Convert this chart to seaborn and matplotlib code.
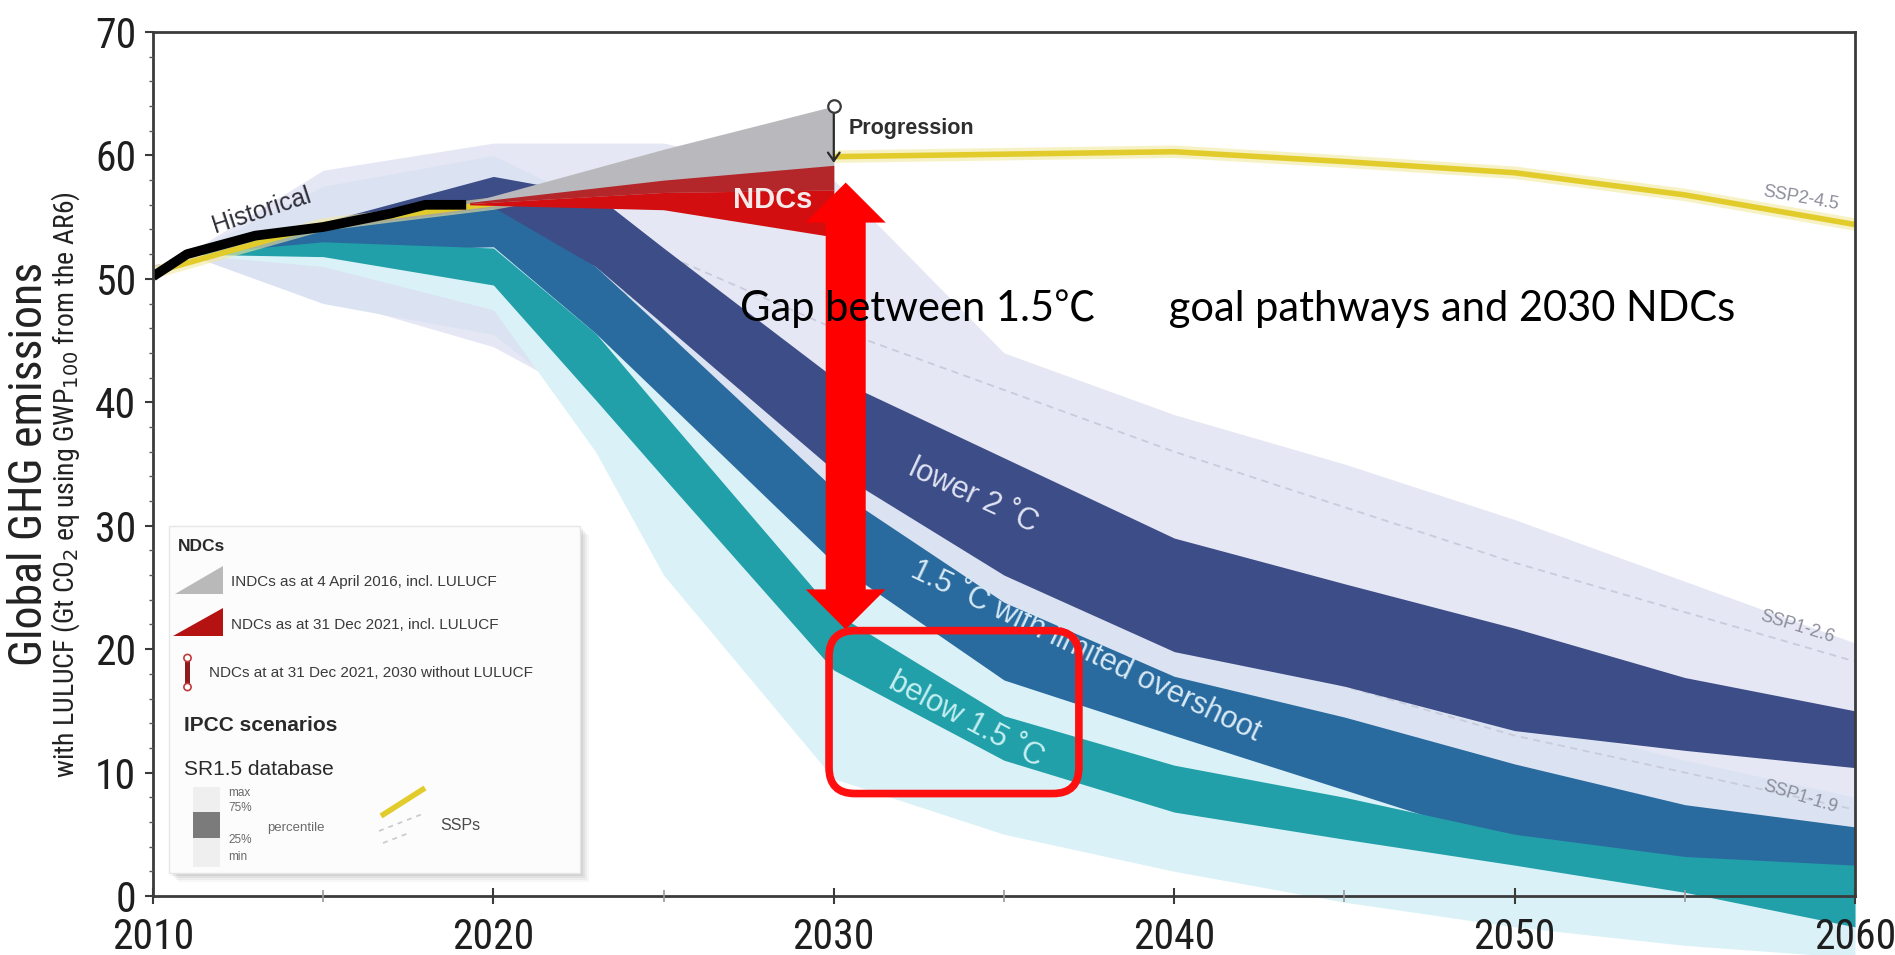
import os
import numpy as np
import pandas as pd
import matplotlib
matplotlib.use("Agg")
import matplotlib.pyplot as plt
from matplotlib import font_manager
from matplotlib.patches import Polygon, FancyBboxPatch, FancyArrow, Rectangle, Circle
import seaborn as sns

# ---------------------------------------------------------------- data
band_years = [2011, 2015, 2020, 2023, 2025, 2030, 2035, 2040, 2045, 2050, 2055, 2060]

# SR1.5 pathway categories: interquartile range (25th-75th percentile)
lower2_p75 = [52.0, 54.6, 58.3, 56.8, 52.5, 42.0, 35.5, 29.0, 25.3, 21.7, 17.7, 15.0]
lower2_p25 = [52.0, 52.8, 55.0, 51.0, 46.3, 34.5, 26.0, 19.8, 17.0, 13.4, 11.8, 10.4]
over15_p75 = [52.0, 54.0, 55.8, 51.0, 45.9, 33.0, 23.8, 17.8, 14.5, 10.7, 7.4, 5.6]
over15_p25 = [52.0, 52.2, 52.6, 45.6, 40.3, 27.0, 17.5, 13.0, 8.6, 4.2, 2.8, 2.0]
below15_p75 = [52.0, 53.0, 52.5, 45.6, 39.1, 23.0, 14.6, 10.6, 8.0, 5.0, 3.2, 2.5]
below15_p25 = [52.0, 51.8, 49.5, 40.2, 33.9, 18.3, 11.0, 6.8, 4.6, 2.5, 0.3, -2.5]

# SR1.5 pathway categories: min-max envelopes
lower2_max = [52.0, 58.8, 61.0, 61.0, 61.0, 58.0, 44.0, 39.0, 35.0, 30.5, 25.5, 20.5]
lower2_min = [52.0, 48.5, 44.5, 40.0, 37.0, 27.0, 19.5, 14.0, 10.0, 7.0, 4.5, 2.5]
over15_max = [52.0, 57.5, 60.0, 56.0, 51.0, 38.0, 28.0, 21.5, 18.0, 14.5, 11.0, 8.0]
over15_min = [52.0, 48.0, 45.5, 39.0, 33.0, 16.0, 9.0, 4.5, 2.0, 0.0, -1.0, -2.0]
below15_max = [52.0, 53.5, 54.0, 48.0, 43.0, 27.0, 18.0, 13.5, 10.5, 7.5, 5.5, 4.0]
below15_min = [52.0, 51.0, 47.5, 36.0, 26.0, 9.5, 5.0, 2.0, -0.5, -2.5, -4.0, -5.0]

# SSP marker scenarios
ssp_years = [2010, 2015, 2020, 2025, 2030, 2035, 2040, 2045, 2050, 2055, 2060]
ssp245 = [50.5, 54.4, 56.1, 58.6, 59.9, 60.1, 60.3, 59.5, 58.6, 56.8, 54.4]
ssp126 = [51.0, 54.0, 56.0, 52.0, 46.0, 41.0, 36.0, 31.5, 27.0, 23.0, 19.0]
ssp119 = [51.0, 54.0, 55.0, 47.0, 37.0, 29.0, 22.0, 17.0, 13.0, 10.0, 7.0]

# historical emissions
hist_years = [2010, 2011, 2013, 2015, 2017, 2018, 2019.2]
hist_vals = [50.2, 52.0, 53.5, 54.2, 55.3, 56.0, 56.0]

# NDC projections to 2030
ndc_years = [2019.3, 2025, 2030]
indc2016_upper = [56.2, 60.5, 64.0]
indc2016_lower = [56.0, 56.5, 57.0]
ndc2021_upper = [56.2, 58.0, 59.2]
ndc2021_mid = [56.1, 57.0, 57.2]
ndc2021_lower = [56.0, 55.6, 53.4]

progression_year = 2030
progression_from, progression_to = 64.0, 59.4

# 2030 gap between NDC level and the below-1.5 pathway
gap_year = 2030.35
gap_top, gap_bottom = 57.8, 21.6
focus_box = dict(x0=2029.86, x1=2037.2, y0=8.3, y1=21.5)


# ---------------------------------------------------------------- fonts
def condensed_font():
    """Return FontProperties of an installed condensed/narrow sans face, or None."""
    prefs = ["Liberation Sans Narrow", "Arial Narrow", "Roboto Condensed", "Noto Sans",
             "Open Sans", "DejaVu Sans", "Roboto", "Liberation Sans"]
    found = []
    for f in font_manager.fontManager.ttflist:
        base = os.path.basename(f.fname)
        cond = ("Narrow" in f.name or "Condensed" in f.name or "Narrow" in base
                or "Condensed" in base or str(f.stretch).lower() in ("condensed", "semi-condensed"))
        if not cond or "Bold" in base or "Italic" in base or "Oblique" in base or "Light" in base:
            continue
        if f.style != "normal" or f.weight not in (400, "normal", "regular", "book"):
            continue
        rank = next((i for i, p in enumerate(prefs) if f.name.startswith(p)), len(prefs))
        found.append((rank, f.fname))
    if not found:
        return None
    found.sort()
    return font_manager.FontProperties(fname=found[0][1])


sns.set_theme(style="ticks")
plt.rcParams["font.family"] = ["Liberation Sans", "DejaVu Sans"]
COND = condensed_font()
if COND is None:
    COND = font_manager.FontProperties(family="Liberation Sans")
    TICK_SIZE, YLAB1, YLAB2 = 25, 30, 18
else:
    TICK_SIZE, YLAB1, YLAB2 = 30, 33, 20

W, H = 1895, 955
fig = plt.figure(figsize=(W / 100, H / 100), dpi=100)
fig.patch.set_facecolor("white")
ax = fig.add_axes([153 / W, 1 - 896 / H, 1702 / W, 864 / H])
ax.set_facecolor("white")
ax.set_xlim(2010, 2060)
ax.set_ylim(0, 70)

C_NAVY = "#3d4d87"
C_BLUE = "#2a6b9f"
C_TEAL = "#22a0a9"

# envelopes
ax.fill_between(band_years, lower2_min, lower2_max, color="#e6e7f4", lw=0, zorder=1, clip_on=False)
ax.fill_between(band_years, over15_min, over15_max, color="#dbe3f2", lw=0, zorder=1.1, clip_on=False)
ax.fill_between(band_years, below15_min, below15_max, color="#daf2f7", lw=0, zorder=1.2, clip_on=False)

# SSP1 dashed lines
sns.lineplot(x=ssp_years, y=ssp126, ax=ax, color="#c9cbdc", lw=1.3, linestyle=(0, (4, 3)), zorder=1.5)
sns.lineplot(x=ssp_years, y=ssp119, ax=ax, color="#c9cbdc", lw=1.3, linestyle=(0, (4, 3)), zorder=1.5)

# interquartile bands
ax.fill_between(band_years, lower2_p25, lower2_p75, color=C_NAVY, lw=0, zorder=2, clip_on=False)
ax.fill_between(band_years, over15_p25, over15_p75, color=C_BLUE, lw=0, zorder=2.1, clip_on=False)
ax.fill_between(band_years, below15_p25, below15_p75, color=C_TEAL, lw=0, zorder=2.2, clip_on=False)

# SSP2-4.5
sns.lineplot(x=ssp_years, y=ssp245, ax=ax, color="#f3e9a0", lw=9, alpha=0.6, zorder=3)
sns.lineplot(x=ssp_years, y=ssp245, ax=ax, color="#e2cc2c", lw=4, zorder=3.1)

# NDC wedges
ax.fill_between(ndc_years, indc2016_lower, indc2016_upper, color="#b9b9bd", lw=0, zorder=4)
ax.fill_between(ndc_years, ndc2021_mid, ndc2021_upper, color="#b3272b", lw=0, zorder=4.1)
ax.fill_between(ndc_years, ndc2021_lower, ndc2021_mid, color="#d20e10", lw=0, zorder=4.1)

# historical
sns.lineplot(x=hist_years, y=hist_vals, ax=ax, color="black", lw=7, zorder=5)
for ln in ax.lines:
    ln.set_solid_capstyle("butt")

# progression arrow
ax.annotate("", xy=(progression_year, progression_to), xytext=(progression_year, progression_from),
            arrowprops=dict(arrowstyle="->,head_width=0.35,head_length=0.5", color="#2b2b2b", lw=1.6,
                            shrinkA=0, shrinkB=0), zorder=6)
ax.plot([progression_year], [progression_from], marker="o", ms=9, mfc="white", mec="#3a3a3a", mew=1.6, zorder=6.1)
ax.text(2030.45, 62.2, "Progression", fontsize=15.5, fontweight="bold", color="#2e2e2e",
        ha="left", va="center", zorder=6)
ax.text(2028.2, 56.4, "NDCs", fontsize=21, fontweight="bold", color="#f4eaea",
        ha="center", va="center", zorder=6)

# labels on the curves
ax.text(2013.2, 55.5, "Historical", fontsize=18, color="#2f2f3a", rotation=18,
        ha="center", va="center", rotation_mode="anchor", zorder=6)
ax.text(2034.1, 32.4, "lower 2 \u02daC", fontsize=22, color="#dfe3f2", rotation=-25,
        ha="center", va="center", rotation_mode="anchor", zorder=6)
ax.text(2037.4, 19.8, "1.5 \u02daC with limited overshoot", fontsize=22, color="#d6e8f4", rotation=-25.5,
        ha="center", va="center", rotation_mode="anchor", zorder=6)
ax.text(2033.9, 14.3, "below 1.5 \u02daC", fontsize=22, color="#c4eff1", rotation=-28,
        ha="center", va="center", rotation_mode="anchor", zorder=6)
for lab, xy, rot in [("SSP2-4.5", (2058.4, 56.5), -10), ("SSP1-2.6", (2058.3, 21.8), -17),
                     ("SSP1-1.9", (2058.4, 8.0), -17)]:
    ax.text(*xy, lab, fontsize=13, color="#8d8e9c", rotation=rot, ha="center", va="center",
            rotation_mode="anchor", zorder=6)

# gap arrow (two heads from the middle)
px_x = 1702 / 50.0      # pixels per year
px_y = 864 / 70.0       # pixels per Gt
mid = (gap_top + gap_bottom) / 2
for tip in (gap_top, gap_bottom):
    ax.add_patch(FancyArrow(gap_year, mid, 0, tip - mid, width=40 / px_x, head_width=80 / px_x,
                            head_length=40 / px_y, length_includes_head=True,
                            color="#ff0000", lw=0, zorder=7))

# focus box
ax.add_patch(FancyBboxPatch((focus_box["x0"], focus_box["y0"]),
                            focus_box["x1"] - focus_box["x0"], focus_box["y1"] - focus_box["y0"],
                            boxstyle="round,pad=0,rounding_size=%f" % (26 / px_x),
                            mutation_aspect=px_x / px_y, fc="none", ec="#ff1010", lw=5.5, zorder=7))

ax.text(2027.25, 47.6, "Gap between 1.5\u2103\u3000 \u2002goal pathways and 2030 NDCs", fontsize=30,
        family=["Lato", "Noto Sans CJK JP", "DejaVu Sans"], color="black", ha="left", va="center", zorder=8)

# axes styling
for s in ax.spines.values():
    s.set_color("#3b3b3b")
    s.set_linewidth(2)
    s.set_zorder(9)
ax.xaxis.set_zorder(9)
ax.yaxis.set_zorder(9)
ax.set_xticks(range(2010, 2061, 10))
ax.set_xticks(range(2015, 2061, 10), minor=True)
ax.set_yticks(range(0, 71, 10))
ax.set_yticks(np.arange(0, 71, 2), minor=True)
ax.tick_params(axis="x", which="major", direction="inout", length=12, width=1.5, color="#3b3b3b", pad=9)
ax.tick_params(axis="x", which="minor", direction="inout", length=9, width=1.2, color="#9a9a9a")
ax.tick_params(axis="y", which="major", direction="out", length=6, width=1.5, color="#3b3b3b", pad=6)
ax.tick_params(axis="y", which="minor", direction="out", length=3, width=1.0, color="#5a5a5a")
for t in ax.get_xticklabels() + ax.get_yticklabels():
    t.set_fontproperties(COND)
    t.set_fontsize(TICK_SIZE)
    t.set_color("#1e1e1e")
ax.set_xlabel("")
ax.set_ylabel("")

t1 = fig.text(29 / W, 1 - 464 / H, "Global GHG emissions", rotation=90,
              ha="center", va="center", color="#222222", fontproperties=COND)
t1.set_fontsize(YLAB1)
t2 = fig.text(66 / W, 1 - 485 / H, "with LULUCF (Gt CO$_2$ eq using GWP$_{100}$ from the AR6)", rotation=90,
              ha="center", va="center", color="#222222", fontproperties=COND)
t2.set_fontsize(YLAB2)

# ---------------------------------------------------------------- legend panel
LX0, LY0, LX1, LY1 = 169, 526, 580, 873
LW_, LH_ = LX1 - LX0, LY1 - LY0
lax = fig.add_axes([LX0 / W, 1 - LY1 / H, LW_ / W, LH_ / H], zorder=10)
lax.set_xlim(0, LW_)
lax.set_ylim(LH_, 0)
lax.axis("off")
for k, a in [(9, 0.05), (7, 0.07), (5, 0.09), (3, 0.12)]:
    lax.add_patch(Rectangle((k, k), LW_, LH_, fc="#707070", alpha=a, lw=0, clip_on=False))
lax.add_patch(Rectangle((0, 0), LW_, LH_, fc="#fcfcfc", ec="#e6e6e6", lw=1, clip_on=False))

lax.text(9, 20, "NDCs", fontsize=12.5, fontweight="bold", color="#2a2a2a", va="center")
lax.add_patch(Polygon([(6, 68), (54, 40), (54, 68)], closed=True, fc="#b9b9b9", lw=0))
lax.add_patch(Polygon([(4, 110), (54, 82), (54, 110)], closed=True, fc="#b51212", lw=0))
lax.add_patch(Rectangle((16, 132), 5, 29, fc="#8e1c1c", lw=0))
for cy in (132, 161):
    lax.add_patch(Circle((18.5, cy), 3.6, fc="white", ec="#c23a3a", lw=1.2))
lax.text(62, 56, "INDCs as at 4 April 2016, incl. LULUCF", fontsize=11, color="#3a3a3a", va="center")
lax.text(62, 99, "NDCs as at 31 Dec 2021, incl. LULUCF", fontsize=11, color="#3a3a3a", va="center")
lax.text(40, 147, "NDCs at at 31 Dec 2021, 2030 without LULUCF", fontsize=11, color="#3a3a3a", va="center")

lax.text(15, 199, "IPCC scenarios", fontsize=15, fontweight="bold", color="#2a2a2a", va="center")
lax.text(15, 243, "SR1.5 database", fontsize=15, color="#2a2a2a", va="center")
lax.add_patch(Rectangle((24, 261), 27, 80, fc="#efefef", lw=0))
lax.add_patch(Rectangle((24, 286), 27, 26, fc="#7b7b7b", lw=0))
for lab, yy in [("max", 267), ("75%", 282), ("25%", 314), ("min", 331)]:
    lax.text(59, yy, lab, fontsize=8.5, color="#6a6a6a", va="center")
lax.text(98, 302, "percentile", fontsize=9.5, color="#6a6a6a", va="center")
lax.plot([212, 256], [290, 262], color="#e2cc2c", lw=4, solid_capstyle="butt")
lax.plot([210, 256], [305, 287], color="#c8c8d0", lw=1.2, ls=(0, (3, 3)))
lax.plot([214, 240], [317, 307], color="#c8c8d0", lw=1.2, ls=(0, (3, 3)))
lax.text(271, 299, "SSPs", fontsize=11.5, color="#4a4a4a", va="center")

fig.savefig("out.png", dpi=100)
